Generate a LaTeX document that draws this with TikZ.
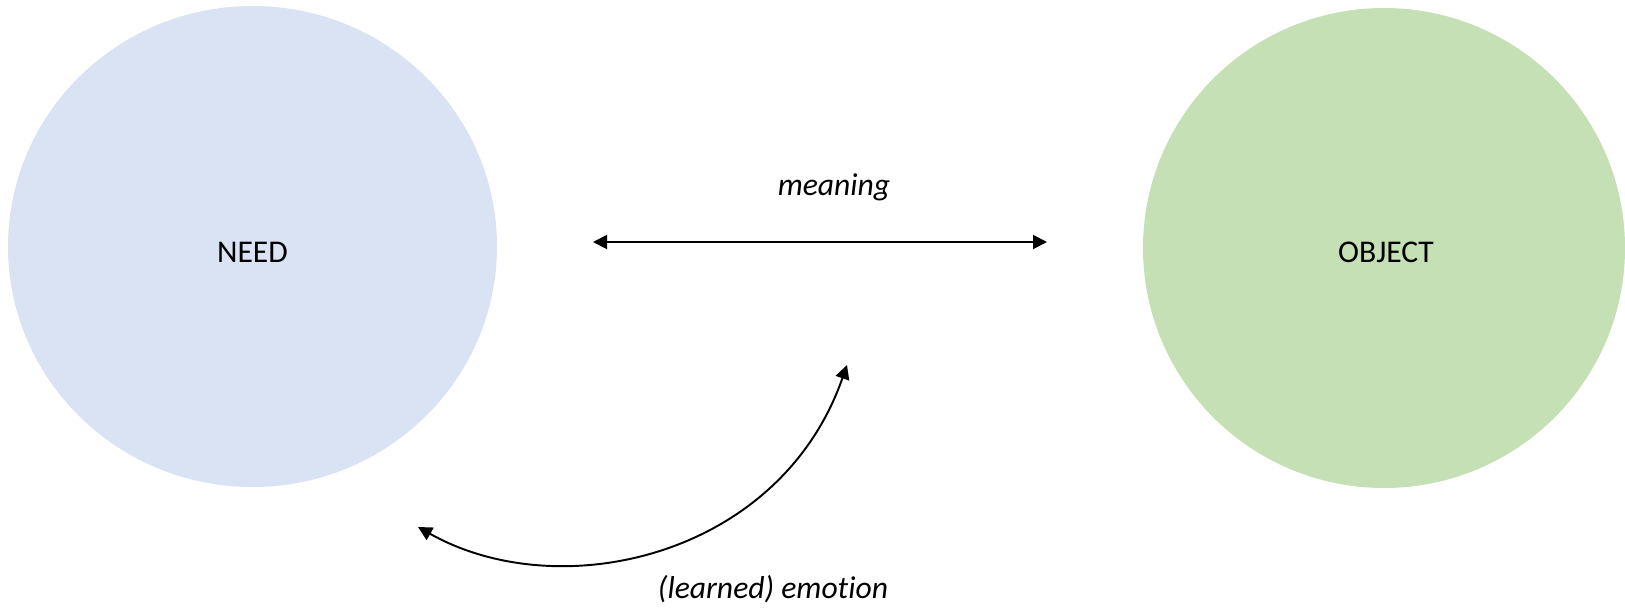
\documentclass[tikz,border=0pt]{standalone}
\usepackage{fontspec}
\setmainfont[Ligatures=NoCommon]{Carlito}
\usepackage{tikz}
\usetikzlibrary{arrows.meta,positioning}
\definecolor{needblue}{HTML}{DAE3F3}
\definecolor{objgreen}{HTML}{C5E0B4}

\begin{document}
\begin{tikzpicture}[
        every node/.style = {font=\fontsize{18}{22}\selectfont},
        link/.style = {line width=1.1pt, {Triangle[length=0.28cm, width=0.28cm]}-{Triangle[length=0.28cm, width=0.28cm]}},
        lbl/.style = {font=\fontsize{18}{22}\selectfont\itshape}
    ]
    \useasboundingbox (0,0) rectangle (32.5,12.14);

    \fill[needblue] (5.05,7.21) ellipse [x radius=4.89, y radius=4.81];
    \fill[objgreen] (27.68,7.18) ellipse [x radius=4.82, y radius=4.80];
    \node (need) at (5.05,7.1) {NEED};
    \node (object) at (27.72,7.1) {OBJECT};

    \coordinate (m0) at (11.86,7.30);
    \coordinate (m1) at (20.94,7.30);
    \draw[link] (m0) -- (m1);
    \node[lbl] (meaning) at (16.68,8.40) {meaning};

    \coordinate (e0) at (8.36,1.60);
    \coordinate (e1) at (16.94,4.84);
    \draw[link] (e0) .. controls (11.2,0.0) and (15.6,1.0) .. (e1);
    \node[lbl] (emotion) at (15.46,0.36) {(learned) emotion};

\end{tikzpicture}
\end{document}
